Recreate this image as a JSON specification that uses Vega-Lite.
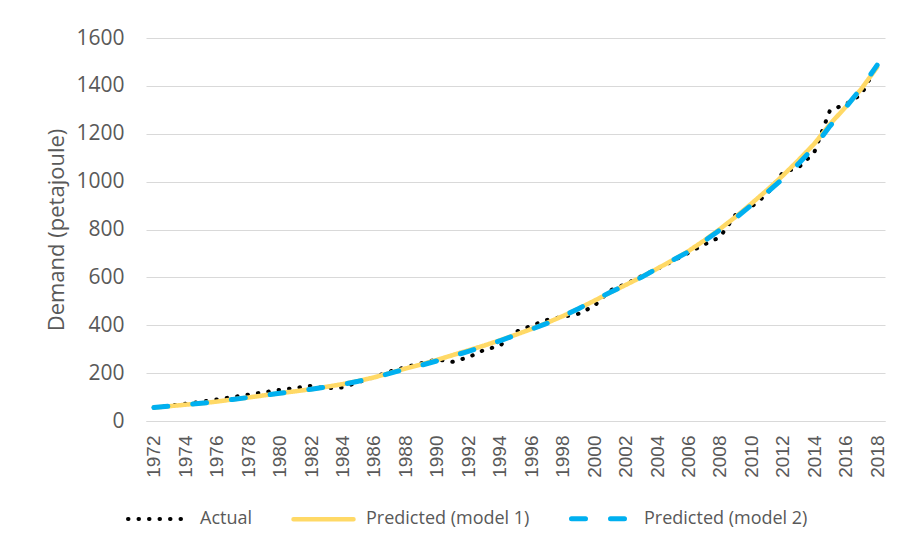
{
  "$schema": "https://vega.github.io/schema/vega-lite/v6.json",
  "autosize": "none",
  "width": 739,
  "height": 383,
  "padding": {"left": 146, "top": 38, "right": 15, "bottom": 128},
  "background": "white",
  "config": {
    "view": {"stroke": null},
    "font": "Open Sans"
  },
  "data": {
    "values": [
      {"year":1972,"series":"Actual","value":56},{"year":1973,"series":"Actual","value":64},{"year":1974,"series":"Actual","value":72},{"year":1975,"series":"Actual","value":80},{"year":1976,"series":"Actual","value":90},{"year":1977,"series":"Actual","value":100},{"year":1978,"series":"Actual","value":110},{"year":1979,"series":"Actual","value":120},{"year":1980,"series":"Actual","value":130},{"year":1981,"series":"Actual","value":138},{"year":1982,"series":"Actual","value":147},{"year":1983,"series":"Actual","value":137},{"year":1984,"series":"Actual","value":140},{"year":1985,"series":"Actual","value":162},{"year":1986,"series":"Actual","value":183},{"year":1987,"series":"Actual","value":207},{"year":1988,"series":"Actual","value":225},{"year":1989,"series":"Actual","value":241},{"year":1990,"series":"Actual","value":257},{"year":1991,"series":"Actual","value":247},{"year":1992,"series":"Actual","value":266},{"year":1993,"series":"Actual","value":297},{"year":1994,"series":"Actual","value":314},{"year":1995,"series":"Actual","value":372},{"year":1996,"series":"Actual","value":398},{"year":1997,"series":"Actual","value":422},{"year":1998,"series":"Actual","value":435},{"year":1999,"series":"Actual","value":448},{"year":2000,"series":"Actual","value":480},{"year":2001,"series":"Actual","value":545},{"year":2002,"series":"Actual","value":572},{"year":2003,"series":"Actual","value":605},{"year":2004,"series":"Actual","value":635},{"year":2005,"series":"Actual","value":668},{"year":2006,"series":"Actual","value":703},{"year":2007,"series":"Actual","value":737},{"year":2008,"series":"Actual","value":768},{"year":2009,"series":"Actual","value":862},{"year":2010,"series":"Actual","value":895},{"year":2011,"series":"Actual","value":948},{"year":2012,"series":"Actual","value":1038},{"year":2013,"series":"Actual","value":1059},{"year":2014,"series":"Actual","value":1122},{"year":2015,"series":"Actual","value":1298},{"year":2016,"series":"Actual","value":1323},{"year":2017,"series":"Actual","value":1364},{"year":2018,"series":"Actual","value":1487},
      {"year":1972,"series":"Predicted (model 1)","value":56},{"year":1973,"series":"Predicted (model 1)","value":62},{"year":1974,"series":"Predicted (model 1)","value":68},{"year":1975,"series":"Predicted (model 1)","value":74},{"year":1976,"series":"Predicted (model 1)","value":81},{"year":1977,"series":"Predicted (model 1)","value":90},{"year":1978,"series":"Predicted (model 1)","value":98},{"year":1979,"series":"Predicted (model 1)","value":107},{"year":1980,"series":"Predicted (model 1)","value":116},{"year":1981,"series":"Predicted (model 1)","value":124},{"year":1982,"series":"Predicted (model 1)","value":133},{"year":1983,"series":"Predicted (model 1)","value":143},{"year":1984,"series":"Predicted (model 1)","value":154},{"year":1985,"series":"Predicted (model 1)","value":167},{"year":1986,"series":"Predicted (model 1)","value":182},{"year":1987,"series":"Predicted (model 1)","value":200},{"year":1988,"series":"Predicted (model 1)","value":219},{"year":1989,"series":"Predicted (model 1)","value":236},{"year":1990,"series":"Predicted (model 1)","value":255},{"year":1991,"series":"Predicted (model 1)","value":275},{"year":1992,"series":"Predicted (model 1)","value":295},{"year":1993,"series":"Predicted (model 1)","value":315},{"year":1994,"series":"Predicted (model 1)","value":337},{"year":1995,"series":"Predicted (model 1)","value":360},{"year":1996,"series":"Predicted (model 1)","value":384},{"year":1997,"series":"Predicted (model 1)","value":410},{"year":1998,"series":"Predicted (model 1)","value":438},{"year":1999,"series":"Predicted (model 1)","value":469},{"year":2000,"series":"Predicted (model 1)","value":502},{"year":2001,"series":"Predicted (model 1)","value":536},{"year":2002,"series":"Predicted (model 1)","value":568},{"year":2003,"series":"Predicted (model 1)","value":601},{"year":2004,"series":"Predicted (model 1)","value":636},{"year":2005,"series":"Predicted (model 1)","value":672},{"year":2006,"series":"Predicted (model 1)","value":710},{"year":2007,"series":"Predicted (model 1)","value":754},{"year":2008,"series":"Predicted (model 1)","value":802},{"year":2009,"series":"Predicted (model 1)","value":853},{"year":2010,"series":"Predicted (model 1)","value":908},{"year":2011,"series":"Predicted (model 1)","value":965},{"year":2012,"series":"Predicted (model 1)","value":1025},{"year":2013,"series":"Predicted (model 1)","value":1090},{"year":2014,"series":"Predicted (model 1)","value":1158},{"year":2015,"series":"Predicted (model 1)","value":1240},{"year":2016,"series":"Predicted (model 1)","value":1312},{"year":2017,"series":"Predicted (model 1)","value":1388},{"year":2018,"series":"Predicted (model 1)","value":1478},
      {"year":1972,"series":"Predicted (model 2)","value":56},{"year":1973,"series":"Predicted (model 2)","value":62},{"year":1974,"series":"Predicted (model 2)","value":68},{"year":1975,"series":"Predicted (model 2)","value":74},{"year":1976,"series":"Predicted (model 2)","value":81},{"year":1977,"series":"Predicted (model 2)","value":90},{"year":1978,"series":"Predicted (model 2)","value":98},{"year":1979,"series":"Predicted (model 2)","value":107},{"year":1980,"series":"Predicted (model 2)","value":116},{"year":1981,"series":"Predicted (model 2)","value":124},{"year":1982,"series":"Predicted (model 2)","value":133},{"year":1983,"series":"Predicted (model 2)","value":142},{"year":1984,"series":"Predicted (model 2)","value":153},{"year":1985,"series":"Predicted (model 2)","value":166},{"year":1986,"series":"Predicted (model 2)","value":181},{"year":1987,"series":"Predicted (model 2)","value":199},{"year":1988,"series":"Predicted (model 2)","value":217},{"year":1989,"series":"Predicted (model 2)","value":233},{"year":1990,"series":"Predicted (model 2)","value":251},{"year":1991,"series":"Predicted (model 2)","value":271},{"year":1992,"series":"Predicted (model 2)","value":291},{"year":1993,"series":"Predicted (model 2)","value":312},{"year":1994,"series":"Predicted (model 2)","value":335},{"year":1995,"series":"Predicted (model 2)","value":359},{"year":1996,"series":"Predicted (model 2)","value":383},{"year":1997,"series":"Predicted (model 2)","value":408},{"year":1998,"series":"Predicted (model 2)","value":437},{"year":1999,"series":"Predicted (model 2)","value":469},{"year":2000,"series":"Predicted (model 2)","value":503},{"year":2001,"series":"Predicted (model 2)","value":537},{"year":2002,"series":"Predicted (model 2)","value":568},{"year":2003,"series":"Predicted (model 2)","value":600},{"year":2004,"series":"Predicted (model 2)","value":637},{"year":2005,"series":"Predicted (model 2)","value":672},{"year":2006,"series":"Predicted (model 2)","value":707},{"year":2007,"series":"Predicted (model 2)","value":751},{"year":2008,"series":"Predicted (model 2)","value":798},{"year":2009,"series":"Predicted (model 2)","value":848},{"year":2010,"series":"Predicted (model 2)","value":902},{"year":2011,"series":"Predicted (model 2)","value":955},{"year":2012,"series":"Predicted (model 2)","value":1012},{"year":2013,"series":"Predicted (model 2)","value":1075},{"year":2014,"series":"Predicted (model 2)","value":1145},{"year":2015,"series":"Predicted (model 2)","value":1232},{"year":2016,"series":"Predicted (model 2)","value":1310},{"year":2017,"series":"Predicted (model 2)","value":1392},{"year":2018,"series":"Predicted (model 2)","value":1487}
    ]
  },
  "mark": {"type": "line", "strokeCap": "round", "strokeJoin": "round"},
  "encoding": {
    "x": {
      "field": "year",
      "type": "ordinal",
      "scale": {"type": "point", "padding": 0.5},
      "axis": {
        "title": null,
        "values": [1972,1974,1976,1978,1980,1982,1984,1986,1988,1990,1992,1994,1996,1998,2000,2002,2004,2006,2008,2010,2012,2014,2016,2018],
        "labelAngle": -90,
        "labelFont": "Liberation Sans",
        "labelFontSize": 19,
        "labelColor": "#595959",
        "labelPadding": 14,
        "ticks": false,
        "domain": true,
        "domainColor": "#D9D9D9",
        "domainWidth": 1,
        "grid": false
      }
    },
    "y": {
      "field": "value",
      "type": "quantitative",
      "scale": {"domain": [0, 1600], "nice": false},
      "axis": {
        "title": "Demand (petajoule)",
        "titleFont": "Open Sans",
        "titleFontSize": 22,
        "titleFontWeight": "normal",
        "titleColor": "#595959",
        "titlePadding": 7,
        "values": [0,200,400,600,800,1000,1200,1400,1600],
        "format": "d",
        "labelFont": "Open Sans",
        "labelFontSize": 21,
        "labelColor": "#595959",
        "labelPadding": 22,
        "ticks": false,
        "domain": false,
        "grid": true,
        "gridColor": "#D9D9D9",
        "gridWidth": 1
      }
    },
    "color": {
      "field": "series",
      "type": "nominal",
      "scale": {
        "domain": ["Actual", "Predicted (model 1)", "Predicted (model 2)"],
        "range": ["#000000", "#FFD966", "#00B0F0"]
      },
      "legend": {
        "title": null,
        "orient": "none",
        "direction": "horizontal",
        "legendX": -20,
        "legendY": 448,
        "padding": 0,
        "symbolType": "stroke",
        "symbolSize": 3600,
        "symbolStrokeWidth": 4.5,
        "labelFont": "Open Sans",
        "labelFontSize": 18,
        "labelLimit": 300,
        "labelColor": "#595959",
        "labelOffset": 10,
        "columnPadding": 31,
        "encode": {"symbols": {"update": {"strokeCap": {"value": "round"}}}}
      }
    },
    "strokeDash": {
      "field": "series",
      "type": "nominal",
      "scale": {
        "domain": ["Actual", "Predicted (model 1)", "Predicted (model 2)"],
        "range": [[0.5, 10], [1, 0], [14, 25]]
      },
      "legend": null
    },
    "strokeWidth": {
      "field": "series",
      "type": "nominal",
      "scale": {
        "domain": ["Actual", "Predicted (model 1)", "Predicted (model 2)"],
        "range": [4, 5, 5.5]
      },
      "legend": null
    },
    "order": {"field": "year"}
  }
}
